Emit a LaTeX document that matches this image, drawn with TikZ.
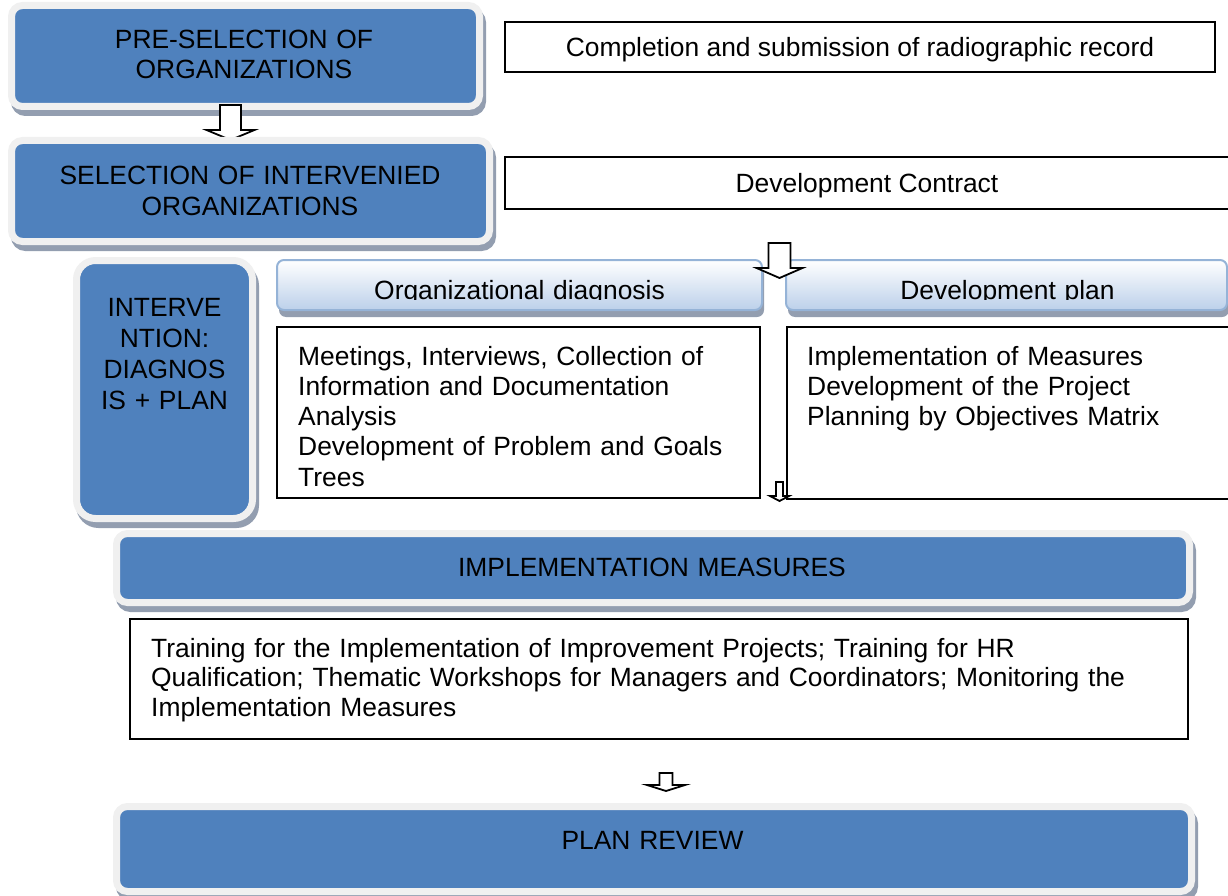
\documentclass[tikz,border=0pt]{standalone}
\usepackage{fontspec}
\setmainfont{Liberation Sans}
\newcommand\diagfont{\fontsize{26.4pt}{30.3pt}\selectfont}

\definecolor{boxblue}{HTML}{4F81BD}
\definecolor{framegray}{HTML}{F0F0F0}
\definecolor{shadowgray}{HTML}{939EB0}
\definecolor{headbot}{HTML}{BCD0EA}
\definecolor{headedge}{HTML}{95B3D7}

\tikzset{
  bluebox/.style={rectangle, rounded corners=11pt, fill=boxblue, draw=framegray,
    line width=7pt, inner sep=0pt,
    preaction={fill=shadowgray, draw=shadowgray, line width=7pt,
      transform canvas={xshift=3pt, yshift=-6pt}}},
  headbox/.style={rectangle, rounded corners=7pt, top color=white, bottom color=headbot,
    draw=headedge, line width=2pt, inner sep=0pt,
    preaction={fill=shadowgray, transform canvas={xshift=2pt, yshift=-7pt}}},
  plainbox/.style={rectangle, draw=black, line width=2pt, fill=white, inner sep=0pt,
    font=\diagfont, text height=19pt, text depth=0pt},
  boxtext/.style={inner sep=0pt, font=\diagfont, text width=#1},
  boxtext/.default=600pt,
  arrowline/.style={draw=black, fill=white, line width=1.8pt, line join=miter},
  pics/blockdown/.style n args={5}{code={
    \path[arrowline] (-#2,#1) -- (-#2,#3) -- (-#4,#3) -- (0,#5) -- (#4,#3)
      -- (#2,#3) -- (#2,#1) -- cycle;
  }}
}

\begin{document}
\begin{tikzpicture}[x=1pt, y=-1pt]
\useasboundingbox (0,0) rectangle (1228,896);

% first stage
\node[bluebox, minimum width=468pt, minimum height=101pt] (pre) at (245.5,56) {};
\node[boxtext, align=center, anchor=base] (pretext) at (244,48.3)
  {PRE-SELECTION OF\\ORGANIZATIONS};
\node[plainbox, minimum width=710pt, minimum height=50pt] (comp) at (860,47)
  {Completion and submission of radiographic record};

\pic at (230.5,0) {blockdown={105}{10.5}{130}{24}{140}};

% second stage
\node[bluebox, minimum width=478pt, minimum height=101pt] (sel) at (250.5,191) {};
\node[boxtext, align=center, anchor=base] (seltext) at (250,185)
  {SELECTION OF INTERVENIED\\ORGANIZATIONS};
\node[plainbox, minimum width=724pt, minimum height=52pt] (contract) at (867,183)
  {Development Contract};

% intervention stage
\node[bluebox, rounded corners=19pt, minimum width=176pt, minimum height=258pt]
  (interv) at (164.5,389.5) {};
\node[boxtext=170pt, align=center, anchor=base,
  font=\fontsize{26.4pt}{31pt}\selectfont] (intervtext) at (164.5,316)
  {INTERVE\\NTION:\\DIAGNOS\\IS + PLAN};

\node[headbox, minimum width=485pt, minimum height=50pt] (odhead) at (519.5,285) {};
\node[headbox, minimum width=441pt, minimum height=50pt] (dphead) at (1006.5,285) {};
\begin{scope}
  \clip (270,250) rectangle (1228,299.2);
  \node[boxtext=480pt, align=center, anchor=base] (odtitle) at (519.5,299)
    {Organizational diagnosis};
  \node[boxtext=440pt, align=center, anchor=base] (dptitle) at (1007.5,299)
    {Development plan};
\end{scope}

\node[plainbox, minimum width=483pt, minimum height=171pt] (odbox) at (518.5,412.5) {};
\node[boxtext=460pt, align=left, anchor=base west] (odlist) at (298,365)
  {Meetings, Interviews, Collection of\\
   Information and Documentation\\
   Analysis\\
   Development of Problem and Goals\\
   Trees};
\node[plainbox, minimum width=442pt, minimum height=172pt] (dpbox) at (1008,413) {};
\node[boxtext=420pt, align=left, anchor=base west] (dplist) at (807,365)
  {Implementation of Measures\\
   Development of the Project\\
   Planning by Objectives Matrix};

\pic at (779.5,0) {blockdown={243}{11}{268}{23}{278}};
\pic at (779.5,0) {blockdown={482}{3.5}{496}{9.5}{501}};

% implementation stage
\node[bluebox, minimum width=1073pt, minimum height=69pt] (impl) at (653,568) {};
\node[boxtext, align=center, anchor=base] (impltext) at (652,576.5)
  {IMPLEMENTATION MEASURES};
\node[plainbox, minimum width=1058pt, minimum height=120pt] (trainbox) at (659,679) {};
\node[boxtext=1030pt, align=left, anchor=base west,
  font=\fontsize{26.4pt}{29.6pt}\selectfont] (trainlist) at (151,657)
  {Training for the Implementation of Improvement Projects; Training for HR\\
   Qualification; Thematic Workshops for Managers and Coordinators; Monitoring the\\
   Implementation Measures};

\pic at (666,0) {blockdown={773}{6.5}{785}{19}{791}};

% review stage
\node[bluebox, minimum width=1075pt, minimum height=85pt] (review) at (654,849) {};
\node[boxtext, align=center, anchor=base] (reviewtext) at (652.5,849)
  {PLAN REVIEW};
\end{tikzpicture}
\end{document}
